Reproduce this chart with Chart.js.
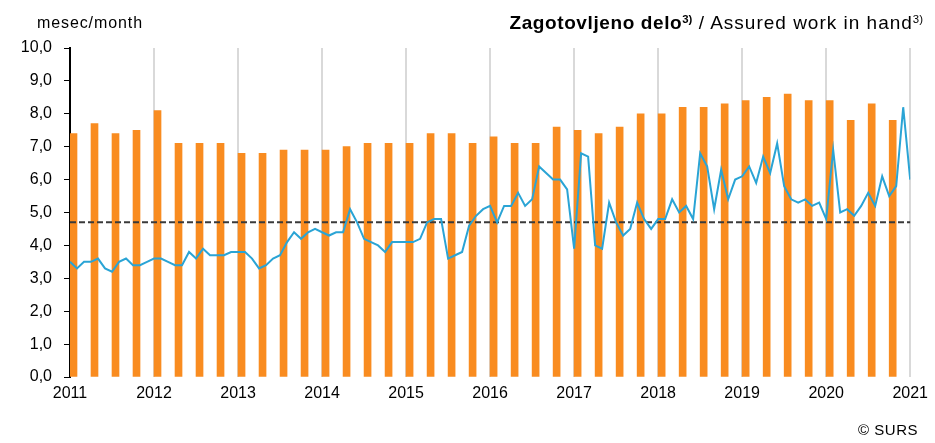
<!DOCTYPE html>
<html>
<head>
<meta charset="utf-8">
<script src="https://cdn.jsdelivr.net/npm/chart.js@4/dist/chart.umd.min.js"></script>
<style>
  body { margin: 0; background: #fff; font-family: "Liberation Sans", Arial, sans-serif; }
  #wrap { position: relative; width: 935px; height: 443px; }
  #chart { position: absolute; left: 0; top: 0; }
  .txt { position: absolute; color: #000; white-space: nowrap; }
  sup { font-size: 60%; vertical-align: 0.55em; line-height: 0; letter-spacing: 0; }
</style>
</head>
<body>
<div id="wrap">
  <canvas id="chart" width="935" height="443"></canvas>
  <div class="txt" id="unit" style="left:37px; top:14px; font-size:16px; letter-spacing:0.9px;">mesec/month</div>
  <div class="txt" id="title" style="right:12px; top:12px; font-size:19px; letter-spacing:1px;"><b style="letter-spacing:0.6px;">Zagotovljeno delo<sup>3)</sup></b> / Assured work in hand<sup>3)</sup></div>
  <div class="txt" id="src" style="right:17px; top:421px; font-size:15px; letter-spacing:0.5px;">© SURS</div>
</div>
<script>
const years = ['2011', '2012', '2013', '2014', '2015', '2016', '2017', '2018', '2019', '2020', '2021'];

// quarterly bars, 2011 Q1 .. 2020 Q4
const quarterValues = [
  7.4, 7.7, 7.4, 7.5,
  8.1, 7.1, 7.1, 7.1,
  6.8, 6.8, 6.9, 6.9,
  6.9, 7.0, 7.1, 7.1,
  7.1, 7.4, 7.4, 7.1,
  7.3, 7.1, 7.1, 7.6,
  7.5, 7.4, 7.6, 8.0,
  8.0, 8.2, 8.2, 8.3,
  8.4, 8.5, 8.6, 8.4,
  8.4, 7.8, 8.3, 7.8
];

// monthly line, Jan 2011 .. Jan 2021
const monthlyValues = [
  3.5, 3.3, 3.5, 3.5, 3.6, 3.3, 3.2, 3.5, 3.6, 3.4, 3.4, 3.5,
  3.6, 3.6, 3.5, 3.4, 3.4, 3.8, 3.6, 3.9, 3.7, 3.7, 3.7, 3.8,
  3.8, 3.8, 3.6, 3.3, 3.4, 3.6, 3.7, 4.1, 4.4, 4.2, 4.4, 4.5,
  4.4, 4.3, 4.4, 4.4, 5.1, 4.7, 4.2, 4.1, 4.0, 3.8, 4.1, 4.1,
  4.1, 4.1, 4.2, 4.7, 4.8, 4.8, 3.6, 3.7, 3.8, 4.6, 4.9, 5.1,
  5.2, 4.7, 5.2, 5.2, 5.6, 5.2, 5.4, 6.4, 6.2, 6.0, 6.0, 5.7,
  3.9, 6.8, 6.7, 4.0, 3.9, 5.3, 4.7, 4.3, 4.5, 5.3, 4.8, 4.5,
  4.8, 4.8, 5.4, 5.0, 5.2, 4.8, 6.8, 6.4, 5.1, 6.3, 5.4, 6.0,
  6.1, 6.4, 5.9, 6.7, 6.2, 7.1, 5.8, 5.4, 5.3, 5.4, 5.2, 5.3,
  4.8, 6.9, 5.0, 5.1, 4.9, 5.2, 5.6, 5.2, 6.1, 5.5, 5.8, 8.2,
  6.0
];

const averageValue = 4.7;

const lastMonth = monthlyValues.length - 1;
const barPoints = quarterValues.map((v, i) => ({ x: i * 3 + 0.5, y: v }));
const linePoints = monthlyValues.map((v, m) => ({ x: m, y: v }));
const avgPoints = [{ x: 0, y: averageValue }, { x: lastMonth + 0.6, y: averageValue }];

const font = { family: '"Liberation Sans", Arial, sans-serif', size: 16 };

new Chart(document.getElementById('chart'), {
  type: 'bar',
  data: {
    datasets: [
      {
        type: 'line',
        data: linePoints,
        borderColor: '#2aa4d5',
        borderWidth: 2,
        pointRadius: 0,
        tension: 0,
        order: 1
      },
      {
        type: 'line',
        data: avgPoints,
        borderColor: '#3a3a3a',
        borderWidth: 2,
        borderDash: [6, 3],
        pointRadius: 0,
        order: 2
      },
      {
        data: barPoints,
        backgroundColor: '#f98c20',
        barThickness: 7,
        grouped: false,
        order: 3
      }
    ]
  },
  options: {
    responsive: false,
    animation: false,
    layout: { padding: { left: 0, top: 48, right: 23, bottom: 36 } },
    plugins: { legend: { display: false }, tooltip: { enabled: false } },
    scales: {
      x: {
        type: 'linear',
        min: 0,
        max: lastMonth,
        offset: false,
        afterFit: s => { s.height = 30; },
        ticks: {
          stepSize: 12,
          autoSkip: false,
          maxRotation: 0,
          padding: 7,
          color: '#000',
          font: font,
          callback: v => years[v / 12]
        },
        grid: {
          offset: false,
          drawTicks: false,
          lineWidth: 2,
          color: ctx => (ctx.tick && ctx.tick.value === 0) ? 'rgba(0,0,0,0)' : '#d9d9d9'
        },
        border: { display: false }
      },
      y: {
        min: 0,
        max: 10,
        afterFit: s => { s.width = 70; },
        ticks: {
          stepSize: 1,
          padding: 12,
          color: '#000',
          font: font,
          callback: v => v.toFixed(1).replace('.', ',')
        },
        grid: {
          drawOnChartArea: false,
          drawTicks: true,
          tickLength: 6,
          color: '#000',
          lineWidth: 1
        },
        border: { display: true, color: '#000', width: 2 }
      }
    }
  }
});
</script>
</body>
</html>
